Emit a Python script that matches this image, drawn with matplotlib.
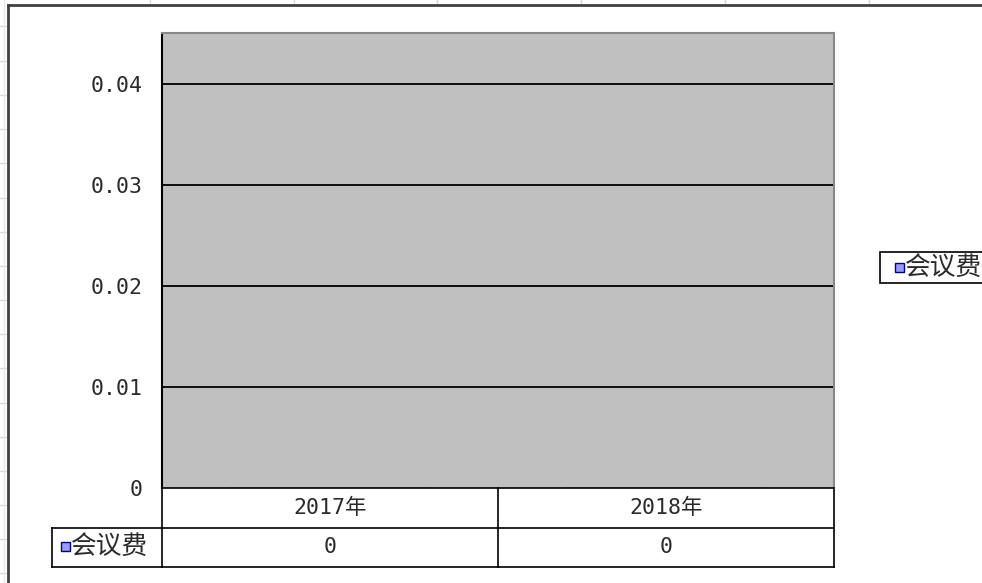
import matplotlib
matplotlib.use("Agg")
import matplotlib.pyplot as plt
from matplotlib.patches import Rectangle
from matplotlib.lines import Line2D
import matplotlib.transforms as mtransforms

# ---- data ----
categories = ["2017年", "2018年"]
series_name = "会议费"
values = [0, 0]
yticks = [0, 0.01, 0.02, 0.03, 0.04]
ytick_labels = ["0", "0.01", "0.02", "0.03", "0.04"]

W, H = 982, 583
fig = plt.figure(figsize=(W / 100, H / 100), dpi=100)
fig.patch.set_facecolor("white")

FONT = ["DejaVu Sans Mono", "Noto Sans CJK SC"]
CJK = ["Noto Sans CJK SC", "DejaVu Sans"]
NUM_FS = 15.5
CJK_FS = 18.5
TXT = "#2a2a2a"

def fx(px):
    return px / W

def fy(py):
    return 1 - py / H

# faint spreadsheet grid remnants
for y in [26, 61, 95, 129, 163, 198, 232, 266, 300, 334, 368, 403, 437, 471, 505, 539, 573]:
    fig.add_artist(Line2D([fx(0), fx(6)], [fy(y), fy(y)], color="#d8d8d8", lw=1))
for x in [150, 294, 437, 581, 725, 869]:
    fig.add_artist(Line2D([fx(x), fx(x)], [fy(0), fy(5)], color="#d8d8d8", lw=1))
fig.add_artist(Line2D([fx(4), fx(4)], [fy(0), fy(583)], color="#e6e6e6", lw=1))

# chart frame
fig.add_artist(Line2D([fx(8), fx(8)], [fy(5), fy(583)], color="#404040", lw=2))
fig.add_artist(Line2D([fx(8), fx(982)], [fy(5), fy(5)], color="#404040", lw=2))

# plot area
L, T, R, B = 162, 33, 834, 488
ax = fig.add_axes([fx(L), fy(B), fx(R - L), (B - T) / H])
ax.set_facecolor("#C0C0C0")
x = list(range(len(categories)))
ax.bar([i + 0.5 for i in x], values, width=0.6, color="#9999FF", edgecolor="black")
ax.set_xlim(0, len(categories))
ax.set_ylim(0, 0.045)
ax.set_yticks(yticks)
ax.set_yticklabels(ytick_labels, fontsize=NUM_FS, family=FONT, color=TXT)
ax.tick_params(axis="y", length=0, pad=14)
ax.set_xticks([])
for t in yticks[1:]:
    ax.axhline(t, color="black", lw=1.3, zorder=1)
for s in ["top", "right"]:
    ax.spines[s].set_color("#888888")
    ax.spines[s].set_linewidth(1.5)
ax.spines["left"].set_color("black")
ax.spines["left"].set_linewidth(1.5)
ax.spines["bottom"].set_color("black")
ax.spines["bottom"].set_linewidth(1.2)

# data table
row_h = 39.5
ph = B - T
blend = mtransforms.blended_transform_factory(ax.transData, ax.transAxes)
y0 = 0
y1 = -row_h / ph
y2 = -2 * row_h / ph
for yy in [y1, y2]:
    ax.add_line(Line2D([0, len(categories)], [yy, yy], transform=blend, color="black", lw=1.2, clip_on=False))
for i in range(len(categories) + 1):
    ax.add_line(Line2D([i, i], [y0, y2], transform=blend, color="black", lw=1.2, clip_on=False))
for i, (c, v) in enumerate(zip(categories, values)):
    ax.text(i + 0.5, (y0 + y1) / 2, c, transform=blend, ha="center", va="center",
            fontsize=NUM_FS, family=FONT, color=TXT)
    ax.text(i + 0.5, (y1 + y2) / 2, f"{v:g}", transform=blend, ha="center", va="center",
            fontsize=NUM_FS, family=FONT, color=TXT)

# row header cell
hx0 = 52
fig.add_artist(Line2D([fx(hx0), fx(L)], [fy(B + row_h), fy(B + row_h)], color="black", lw=1.2))
fig.add_artist(Line2D([fx(hx0), fx(L)], [fy(B + 2 * row_h), fy(B + 2 * row_h)], color="black", lw=1.2))
fig.add_artist(Line2D([fx(hx0), fx(hx0)], [fy(B + row_h), fy(B + 2 * row_h)], color="black", lw=1.2))
ymid = B + 1.5 * row_h
fig.add_artist(Rectangle((fx(61), fy(ymid + 4)), fx(9), 9 / H, facecolor="#9999FF",
                         edgecolor="#000080", lw=1))
fig.text(fx(71), fy(ymid), series_name, ha="left", va="center", fontsize=CJK_FS,
         family=CJK, color=TXT)

# legend box
lx0, ly0, ly1 = 880, 252, 283
fig.add_artist(Rectangle((fx(lx0), fy(ly1)), fx(982 - lx0 + 5), (ly1 - ly0) / H,
                         facecolor="white", edgecolor="black", lw=1.2))
lmid = (ly0 + ly1) / 2
fig.add_artist(Rectangle((fx(895), fy(lmid + 4)), fx(9), 9 / H, facecolor="#9999FF",
                         edgecolor="#000080", lw=1))
fig.text(fx(905), fy(lmid), series_name, ha="left", va="center", fontsize=CJK_FS,
         family=CJK, color=TXT)

fig.savefig("out.png", dpi=100, facecolor="white")
